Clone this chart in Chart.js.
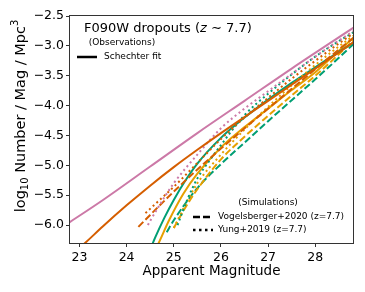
<!DOCTYPE html>
<html>
<head>
<meta charset="utf-8">
<script src="https://cdn.jsdelivr.net/npm/chart.js@4.4.1/dist/chart.umd.min.js"></script>
<style>
  body { margin: 0; background: #fff; }
  canvas { display: block; }
</style>
</head>
<body>
<canvas id="lf" width="365" height="292"></canvas>
<script>
// tick labels
const magTicks = [23, 24, 25, 26, 27, 28];
const phiTicks = [-6.0, -5.5, -5.0, -4.5, -4.0, -3.5, -3.0, -2.5];

// observations, Schechter fits (solid)
const pinkFitMag = [22.7, 23.5, 24.5, 25.5, 26.5, 27.5, 28.9];
const pinkFitPhi = [-6.0, -5.58, -5.02, -4.46, -3.92, -3.38, -2.65];
const vermFitMag = [22.95, 23.12, 23.5, 24, 24.5, 25, 25.5, 26, 26.5, 27, 27.5, 28, 28.5, 28.9];
const vermFitPhi = [-6.42, -6.3, -6.02, -5.67, -5.34, -5.03, -4.74, -4.46, -4.19, -3.92, -3.65, -3.38, -3.11, -2.89];
const greenFitMag = [24.48, 24.6, 24.8, 25, 25.25, 25.5, 26, 26.5, 27, 27.5, 28, 28.5, 28.9];
const greenFitPhi = [-6.45, -6.22, -5.88, -5.58, -5.25, -4.97, -4.54, -4.20, -3.90, -3.62, -3.36, -3.10, -2.90];
const orangeFitMag = [24.58, 24.68, 24.9, 25.2, 25.5, 26, 26.5, 27, 27.5, 28, 28.5, 28.9];
const orangeFitPhi = [-6.45, -6.3, -5.92, -5.48, -5.14, -4.70, -4.36, -4.05, -3.74, -3.44, -3.08, -2.80];

// Vogelsberger+2020 (dashed)
const vermVogMag = [24.25, 24.5, 25, 25.5, 26, 26.5, 27, 27.5, 28, 28.5, 28.9];
const vermVogPhi = [-6.03, -5.83, -5.44, -5.07, -4.72, -4.38, -4.05, -3.72, -3.39, -3.06, -2.81];
const orangeVogMag = [25.0, 25.25, 25.5, 26, 26.5, 27, 27.5, 28, 28.5, 28.9];
const orangeVogPhi = [-6.05, -5.70, -5.40, -4.90, -4.52, -4.17, -3.83, -3.50, -3.14, -2.84];
const greenVogMag = [24.85, 25, 25.5, 26, 26.5, 27, 27.5, 28, 28.5, 28.9];
const greenVogPhi = [-6.12, -5.92, -5.38, -4.98, -4.62, -4.26, -3.91, -3.56, -3.20, -2.90];

// Yung+2019 (dotted)
const pinkYungMag = [24.45, 24.5, 24.75, 25, 25.5, 26, 26.5, 27, 27.5, 28, 28.5, 28.9];
const pinkYungPhi = [-6.0, -5.93, -5.60, -5.30, -4.82, -4.38, -4.05, -3.76, -3.47, -3.18, -2.91, -2.71];
const vermYungMag = [24.4, 24.7, 25, 25.5, 26, 26.5, 27, 27.5, 28, 28.5, 28.9];
const vermYungPhi = [-5.80, -5.58, -5.36, -4.96, -4.56, -4.20, -3.87, -3.55, -3.25, -2.96, -2.74];
const greenYungMag = [25.08, 25.3, 25.5, 25.75, 26, 26.5, 27, 27.5, 28, 28.5, 28.9];
const greenYungPhi = [-6.0, -5.55, -5.22, -4.93, -4.66, -4.16, -3.80, -3.48, -3.18, -2.92, -2.73];
const orangeYungMag = [25.0, 25.25, 25.5, 26, 26.5, 27, 27.5, 28, 28.5, 28.9];
const orangeYungPhi = [-6.05, -5.65, -5.30, -4.82, -4.40, -4.02, -3.66, -3.32, -3.01, -2.78];

const PINK = '#cc79a7', VERM = '#d55e00', GREEN = '#009e73', ORANGE = '#e69f00';
const DASH = [7, 3], DOT = [2, 3];
const FONT = '"DejaVu Sans", sans-serif';

function pts(xs, ys) {
    return xs.map(function (x, i) { return { x: x, y: ys[i] }; });
}

function curve(xs, ys, color, dash) {
    return {
        data: pts(xs, ys),
        borderColor: color,
        borderWidth: 2,
        borderDash: dash || [],
        pointRadius: 0,
        cubicInterpolationMode: 'monotone',
        clip: 0,
        fill: false
    };
}

var datasets = [
    curve(pinkFitMag, pinkFitPhi, PINK),
    curve(vermFitMag, vermFitPhi, VERM),
    curve(pinkYungMag, pinkYungPhi, PINK, DOT),
    curve(vermYungMag, vermYungPhi, VERM, DOT),
    curve(vermVogMag, vermVogPhi, VERM, DASH),
    curve(greenYungMag, greenYungPhi, GREEN, DOT),
    curve(orangeYungMag, orangeYungPhi, ORANGE, DOT),
    curve(greenFitMag, greenFitPhi, GREEN),
    curve(orangeFitMag, orangeFitPhi, ORANGE),
    curve(orangeVogMag, orangeVogPhi, ORANGE, DASH),
    curve(greenVogMag, greenVogPhi, GREEN, DASH)
];

function minus(v, digits) {
    var s = digits ? v.toFixed(digits) : String(v);
    return s.replace('-', '\u2212');
}

// draws a run of [text, size, dy] pieces centred on 0
function drawRun(ctx, parts) {
    var total = 0;
    parts.forEach(function (p) {
        ctx.font = p[1] + 'px ' + FONT;
        total += ctx.measureText(p[0]).width;
    });
    var x = -total / 2;
    parts.forEach(function (p) {
        ctx.font = p[1] + 'px ' + FONT;
        ctx.fillText(p[0], x, p[2]);
        x += ctx.measureText(p[0]).width;
    });
}

const decor = {
    id: 'decor',
    afterDraw: function (chart) {
        var ctx = chart.ctx;
        var a = chart.chartArea;
        ctx.save();
        ctx.strokeStyle = '#333';
        ctx.lineWidth = 1;
        ctx.strokeRect(a.left - 0.5, a.top - 0.5, a.right - a.left + 1, a.bottom - a.top + 1);

        ctx.fillStyle = '#000';
        ctx.textBaseline = 'middle';

        // title with italic z
        var tx = a.left + 14, ty = a.top + 13;
        ctx.textAlign = 'left';
        var parts = [['F090W dropouts (', 'normal'], ['z', 'italic'], [' \u223c 7.7)', 'normal']];
        parts.forEach(function (p) {
            ctx.font = p[1] + ' 13px ' + FONT;
            ctx.fillText(p[0], tx, ty);
            tx += ctx.measureText(p[0]).width;
        });

        // observations legend
        ctx.font = '9px ' + FONT;
        ctx.textAlign = 'center';
        ctx.fillText('(Observations)', 122, 43);
        ctx.textAlign = 'left';
        ctx.fillText('Schechter fit', 104, 57);
        ctx.lineWidth = 2.5;
        ctx.strokeStyle = '#000';
        ctx.beginPath();
        ctx.moveTo(77, 57);
        ctx.lineTo(97, 57);
        ctx.stroke();

        // simulations legend
        ctx.textAlign = 'center';
        ctx.fillText('(Simulations)', 268, 203);
        ctx.textAlign = 'left';
        ctx.fillText('Vogelsberger+2020 (z=7.7)', 218, 217);
        ctx.fillText('Yung+2019 (z=7.7)', 218, 230);
        ctx.setLineDash([7, 3]);
        ctx.beginPath();
        ctx.moveTo(193, 217);
        ctx.lineTo(213, 217);
        ctx.stroke();
        ctx.setLineDash([2.5, 3.5]);
        ctx.beginPath();
        ctx.moveTo(193, 230);
        ctx.lineTo(213, 230);
        ctx.stroke();
        ctx.setLineDash([]);

        // axis titles
        ctx.font = '13.5px ' + FONT;
        ctx.textAlign = 'center';
        ctx.fillText('Apparent Magnitude', (a.left + a.right) / 2, 271);
        ctx.textAlign = 'left';
        ctx.translate(21, 116);
        ctx.rotate(-Math.PI / 2);
        drawRun(ctx, [['log', 14.5, 0], ['10', 10, 4], [' Number / Mag / Mpc', 14.5, 0], ['3', 10, -6]]);
        ctx.restore();
    }
};

new Chart(document.getElementById('lf'), {
    type: 'line',
    data: { datasets: datasets },
    options: {
        responsive: false,
        animation: false,
        layout: { padding: { left: 0, top: 16, right: 12, bottom: 0 } },
        plugins: { legend: { display: false }, tooltip: { enabled: false } },
        scales: {
            x: {
                type: 'linear',
                min: 22.8,
                max: 28.8,
                afterFit: function (s) { s.height = 49; },
                afterBuildTicks: function (s) { s.ticks = magTicks.map(function (v) { return { value: v }; }); },
                grid: { drawOnChartArea: false, drawTicks: true, tickLength: 4, color: '#333' },
                border: { display: false },
                ticks: {
                    color: '#000',
                    padding: 3,
                    maxRotation: 0,
                    font: { family: FONT, size: 12.5 },
                    callback: function (v) { return minus(v); }
                }
            },
            y: {
                type: 'linear',
                min: -6.3,
                max: -2.5,
                afterFit: function (s) { s.width = 70; },
                afterBuildTicks: function (s) { s.ticks = phiTicks.map(function (v) { return { value: v }; }); },
                grid: { drawOnChartArea: false, drawTicks: true, tickLength: 4, color: '#333' },
                border: { display: false },
                ticks: {
                    color: '#000',
                    padding: 2,
                    font: { family: FONT, size: 12.5 },
                    callback: function (v) { return minus(v, 1); }
                }
            }
        }
    },
    plugins: [decor]
});
</script>
</body>
</html>
